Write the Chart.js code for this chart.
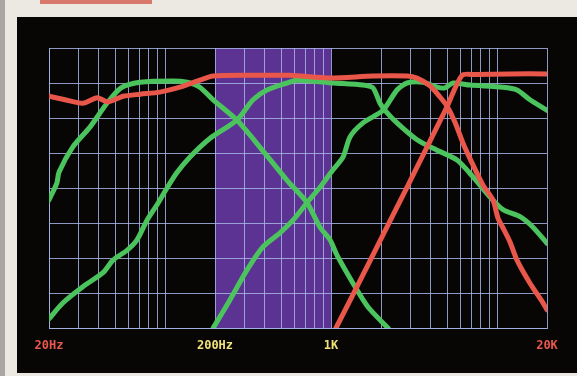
<!DOCTYPE html>
<html><head><meta charset="utf-8">
<script src="https://cdn.jsdelivr.net/npm/chart.js@4.4.1/dist/chart.umd.min.js"></script>
<style>html,body{margin:0;padding:0;background:#ece9e2;overflow:hidden}#wrap{width:577px;height:376px;position:relative}</style>
</head><body><div id="wrap"><canvas id="c" width="577" height="376"></canvas></div>
<script>
// Axis ticks (Hz) and labels
const xTickValues = [20,30,40,50,60,70,80,90,100,200,300,400,500,600,700,800,900,1000,2000,3000,4000,5000,6000,7000,8000,9000,10000,20000];
const xTickLabels = {20:'20Hz',200:'200Hz',1000:'1K',20000:'20K'};
const xTickLabelColors = {20:'#e8584c',200:'#f0e27a',1000:'#f0e27a',20000:'#e8584c'};
const bandRange = [200, 1000];

// Red curve A (flat, rolling off at top)
const redAFreq = [20,25,32,39,45,56,71,93,123,162,195,325,566,986,1790,2868,3295,3946,4534,4995,5582,6238,7164,8234,9458,10134,10862,11970,13194,15794,18920,20000];
const redADb   = [-6.9,-7.4,-7.9,-7.1,-7.7,-6.9,-6.6,-6.3,-5.6,-4.6,-4.0,-3.9,-3.9,-4.3,-4.0,-4.0,-4.3,-5.4,-7.0,-8.3,-10.6,-13.6,-16.7,-19.6,-21.7,-24.3,-25.7,-27.7,-30.3,-33.6,-36.4,-37.4];
// Red curve B (tweeter high-pass)
const redBFreq = [1071,1434,2056,2868,3946,4995,6152,7366,11970,20000];
const redBDb   = [-40,-34.1,-26.7,-19.9,-13.3,-8.4,-3.9,-3.8,-3.7,-3.7];
// Green curve 1 (woofer)
const green1Freq = [20,22.3,23,27.9,35.3,44.7,54.3,70.7,111.7,136,162,195,271,389,543,717,858,986,1086,1356,1670,2204];
const green1Db   = [-21.7,-19.3,-17.7,-14.1,-11.3,-7.9,-5.7,-4.9,-4.7,-4.9,-5.6,-7.4,-10.3,-14.7,-18.9,-22.1,-25.6,-27.4,-29.6,-33.6,-37.0,-40];
// Green curve 2 (low-mid)
const green2Freq = [20,24.3,32,42.3,48.6,59,67.8,77.9,89.5,102.8,118,141,187,271,339,411,543,624,1028,1559,1790,1972,2113,2497,3295,4350,5740,7164,9072,10862,13752,16466,20000];
const green2Db   = [-38.7,-36.4,-34.1,-32.1,-30.3,-28.9,-27.4,-24.6,-22.4,-20.0,-17.8,-15.6,-12.9,-10.3,-7.4,-6,-5,-4.6,-5,-5.3,-5.7,-7.9,-8.9,-10.7,-13.1,-14.6,-16,-18.4,-21.3,-23.1,-24.1,-25.6,-27.9];
// Green curve 3 (mid)
const green3Freq = [195,246,312,389,493,590,717,858,1028,1181,1301,1559,2056,2497,2868,3582,4350,4858,5430,6872,10862,13194,15794,20000];
const green3Db   = [-40,-36,-31.7,-28.4,-26.4,-24.6,-22.1,-19.9,-17.4,-15.6,-12.7,-10.7,-8.9,-6,-5,-4.9,-5.6,-5.7,-5,-5.3,-5.6,-6,-7.4,-8.9];

const pts = (f, d) => f.map((v, i) => ({x: v, y: d[i]}));
const GREEN = '#4cc45e', RED = '#e8574a';
const GRID = 'rgba(165,180,228,0.85)';
const mk = (f, d, c, order) => ({data: pts(f, d), borderColor: c, borderWidth: 5, pointRadius: 0, tension: 0.25,
  borderCapStyle: 'round', borderJoinStyle: 'round', fill: false, order});

const framePlugin = {
  id: 'frame',
  beforeDraw(chart) {
    const ctx = chart.ctx, a = chart.chartArea, xs = chart.scales.x;
    ctx.save();
    ctx.fillStyle = '#ece9e2'; ctx.fillRect(0, 0, chart.width, chart.height);
    ctx.fillStyle = '#a9a7a3'; ctx.fillRect(0, 0, 5, chart.height);
    ctx.fillStyle = '#d9786c'; ctx.fillRect(40, 0, 112, 4);
    ctx.fillStyle = '#080505'; ctx.fillRect(17, 17, chart.width - 17, 356);
    const x0 = xs.getPixelForValue(bandRange[0]), x1 = xs.getPixelForValue(bandRange[1]);
    ctx.fillStyle = '#5c3292'; ctx.fillRect(x0, a.top, x1 - x0, a.bottom - a.top);
    ctx.restore();
  }
};

new Chart(document.getElementById('c'), {
  type: 'line',
  data: { datasets: [
    mk(redAFreq, redADb, RED, 0),
    mk(redBFreq, redBDb, RED, 0),
    mk(green1Freq, green1Db, GREEN, 1),
    mk(green2Freq, green2Db, GREEN, 1),
    mk(green3Freq, green3Db, GREEN, 1)
  ]},
  options: {
    responsive: false, animation: false, devicePixelRatio: 1,
    layout: { padding: { top: 48, right: 30, left: 0, bottom: 0 } },
    plugins: { legend: { display: false }, tooltip: { enabled: false } },
    scales: {
      x: {
        type: 'logarithmic', min: 20, max: 20000,
        afterBuildTicks: s => { s.ticks = xTickValues.map(v => ({value: v})); },
        afterFit: s => { s.height = 48; },
        grid: { color: GRID, lineWidth: 1, drawTicks: false },
        border: { color: GRID },
        ticks: {
          autoSkip: false, maxRotation: 0, minRotation: 0, padding: 11,
          callback: v => xTickLabels[v] || '',
          color: c => xTickLabelColors[c.tick && c.tick.value] || '#000',
          font: { family: 'DejaVu Sans Mono', weight: 'bold', size: 12 }
        }
      },
      y: {
        type: 'linear', min: -40, max: 0,
        afterFit: s => { s.width = 49; },
        ticks: { stepSize: 5, display: false },
        grid: { color: GRID, lineWidth: 1, drawTicks: false },
        border: { color: GRID }
      }
    }
  },
  plugins: [framePlugin]
});
</script></body></html>
